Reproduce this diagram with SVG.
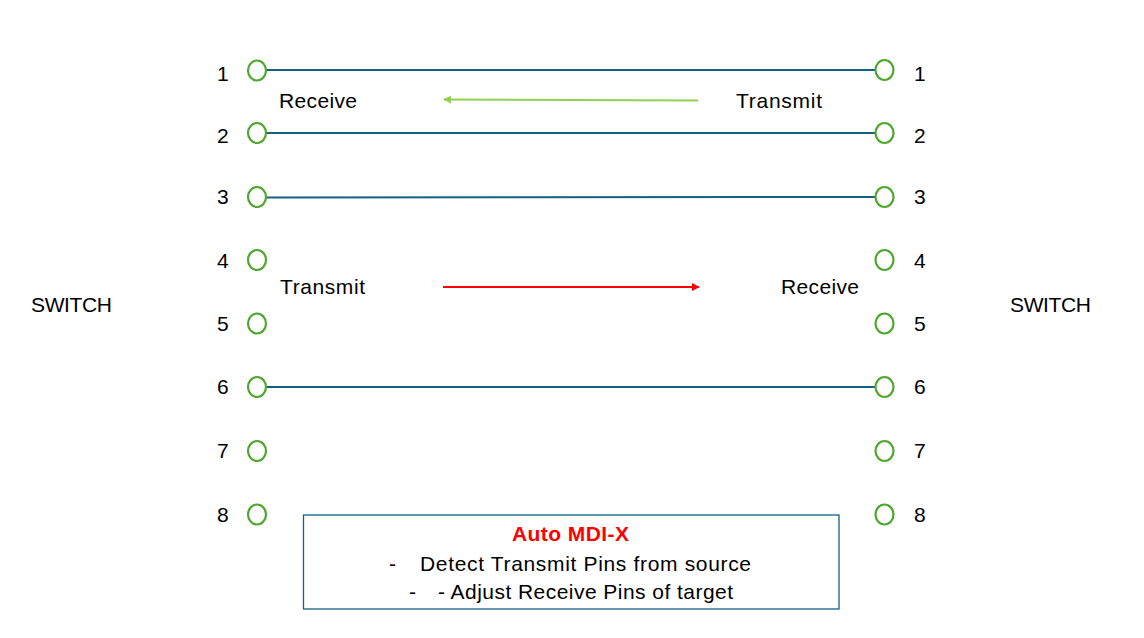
<svg xmlns="http://www.w3.org/2000/svg" width="1144" height="638" viewBox="0 0 1144 638">
<style>
.t{font-family:"Liberation Sans",Arial,sans-serif;font-size:21px;fill:#000}
.pin{fill:none;stroke:#4EA72E;stroke-width:2.2}
.wire{stroke:#156082;stroke-width:2;fill:none}
</style>
<defs>
<marker id="ag" viewBox="0 0 10 10" refX="9" refY="5" markerWidth="4" markerHeight="4" orient="auto-start-reverse"><path d="M0,0L10,5L0,10z" fill="#92D050"/></marker>
<marker id="ar" viewBox="0 0 10 10" refX="9" refY="5" markerWidth="4" markerHeight="4" orient="auto"><path d="M0,0L10,5L0,10z" fill="#FF0000"/></marker>
</defs>
<rect width="1144" height="638" fill="#fff"/>
<g id="switch-left"><text class="t" x="31" y="312" textLength="81">SWITCH</text></g>
<g id="switch-right"><text class="t" x="1010" y="312" textLength="81">SWITCH</text></g>
<g id="connectors">
<line class="wire" x1="266" y1="70" x2="875" y2="70"/>
<line class="wire" x1="266" y1="133" x2="875" y2="133"/>
<line class="wire" x1="266" y1="197.5" x2="875" y2="197"/>
<line class="wire" x1="266" y1="387" x2="875" y2="387"/>
<line stroke="#92D050" stroke-width="2" x1="698" y1="100.5" x2="444" y2="99.5" marker-end="url(#ag)"/>
<line stroke="#FF0000" stroke-width="2" x1="443" y1="287" x2="699" y2="287" marker-end="url(#ar)"/>
</g>
<g id="pins-left">
<ellipse class="pin" cx="257" cy="70.5" rx="9" ry="10"/>
<ellipse class="pin" cx="257" cy="133" rx="9" ry="10"/>
<ellipse class="pin" cx="257" cy="197" rx="9" ry="10"/>
<ellipse class="pin" cx="257" cy="260" rx="9" ry="10"/>
<ellipse class="pin" cx="257" cy="323.5" rx="9" ry="10"/>
<ellipse class="pin" cx="257" cy="387" rx="9" ry="10"/>
<ellipse class="pin" cx="257" cy="451" rx="9" ry="10"/>
<ellipse class="pin" cx="257" cy="514.5" rx="9" ry="10"/>
<text class="t" x="217" y="81">1</text>
<text class="t" x="217" y="143">2</text>
<text class="t" x="217" y="204">3</text>
<text class="t" x="217" y="268">4</text>
<text class="t" x="217" y="331">5</text>
<text class="t" x="217" y="394">6</text>
<text class="t" x="217" y="458">7</text>
<text class="t" x="217" y="522">8</text>
</g>
<g id="pins-right">
<ellipse class="pin" cx="884.5" cy="70" rx="9" ry="10"/>
<ellipse class="pin" cx="884.5" cy="133" rx="9" ry="10"/>
<ellipse class="pin" cx="884.5" cy="197" rx="9" ry="10"/>
<ellipse class="pin" cx="884.5" cy="260" rx="9" ry="10"/>
<ellipse class="pin" cx="884.5" cy="323.5" rx="9" ry="10"/>
<ellipse class="pin" cx="884.5" cy="387" rx="9" ry="10"/>
<ellipse class="pin" cx="884.5" cy="451" rx="9" ry="10"/>
<ellipse class="pin" cx="884.5" cy="514.5" rx="9" ry="10"/>
<text class="t" x="914" y="81">1</text>
<text class="t" x="914" y="143">2</text>
<text class="t" x="914" y="204">3</text>
<text class="t" x="914" y="268">4</text>
<text class="t" x="914" y="331">5</text>
<text class="t" x="914" y="394">6</text>
<text class="t" x="914" y="458">7</text>
<text class="t" x="914" y="522">8</text>
</g>
<g id="labels">
<text class="t" x="279" y="108" textLength="78">Receive</text>
<text class="t" x="736" y="108" textLength="86">Transmit</text>
<text class="t" x="280" y="294" textLength="85">Transmit</text>
<text class="t" x="781" y="294" textLength="78">Receive</text>
</g>
<g id="note">
<rect x="303.5" y="515" width="535.5" height="94" fill="#fff" stroke="#156082" stroke-width="1.3"/>
<text class="t" x="512" y="541" textLength="117" font-weight="bold" style="fill:#FF0000">Auto MDI-X</text>
<text class="t" x="389" y="571">-</text>
<text class="t" x="420" y="571" textLength="331">Detect Transmit Pins from source</text>
<text class="t" x="409" y="599">-</text>
<text class="t" x="438" y="599" textLength="295">- Adjust Receive Pins of target</text>
</g>
</svg>
